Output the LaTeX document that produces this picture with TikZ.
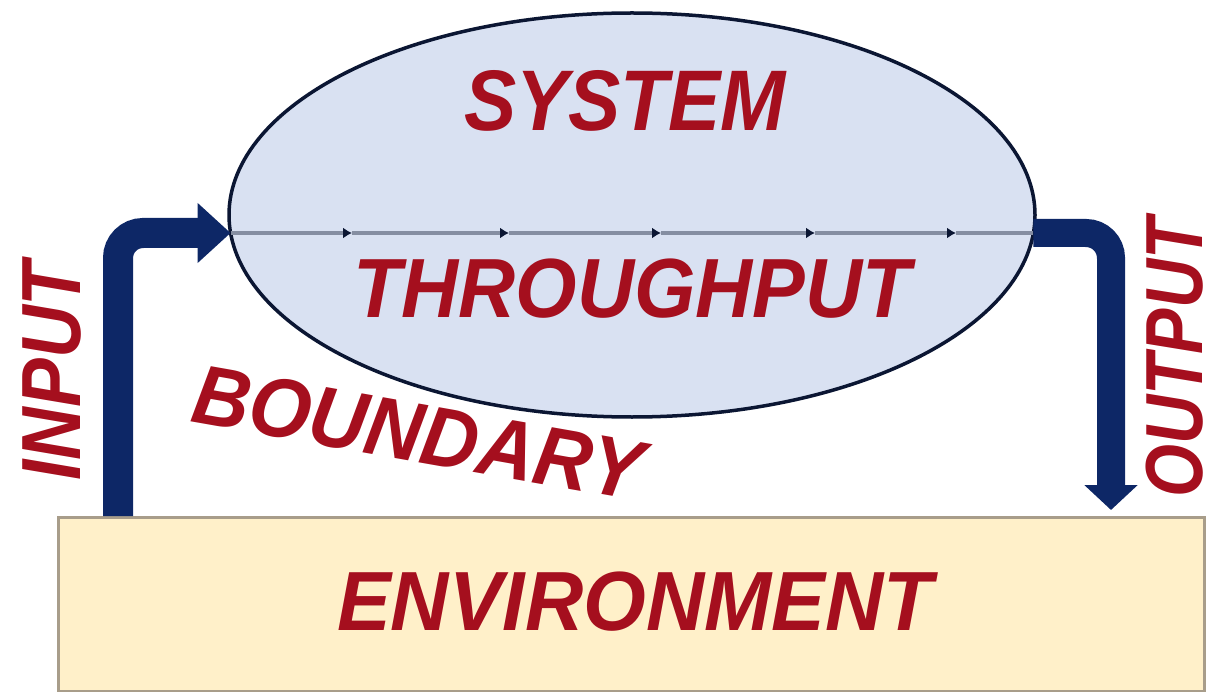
\documentclass[tikz,border=0pt]{standalone}
\usepackage{fontspec}
\setmainfont{Liberation Sans}
\usetikzlibrary{arrows.meta,shapes.geometric}
\definecolor{txtred}{HTML}{A50F1E}
\definecolor{navy}{HTML}{0D2766}
\definecolor{ellfill}{HTML}{D9E1F2}
\definecolor{ellline}{HTML}{0B1633}
\definecolor{envfill}{HTML}{FFF0C9}
\definecolor{envline}{HTML}{A89D8A}
\definecolor{tline}{HTML}{858EA2}
\begin{document}
\begin{tikzpicture}[x=1pt,y=-1pt,
  lbl/.style={text=txtred, inner sep=0pt, font=\fontsize{84}{84}\selectfont\bfseries\itshape},
  flow/.style={draw=navy, line width=30pt, rounded corners=25pt},
  tick/.style={draw=tline, line width=3.5pt, -{Latex[length=9pt,width=11pt,color=ellline]}},
]
\useasboundingbox (0,0) rectangle (1206,692);
% environment
\node[draw=envline, fill=envfill, line width=3pt, minimum width=1146pt, minimum height=174pt,
      inner sep=0pt, anchor=north west] (env) at (57,516) {};
\node[lbl] (envtext) at (635,602) {\scalebox{0.96}[1]{ENVIRONMENT}};
% system
\node[ellipse, draw=ellline, fill=ellfill, line width=3.5pt, minimum width=806pt, minimum height=404pt,
      inner sep=0pt] (sys) at (632,215) {};
\coordinate (inL) at (230.6,233);
\coordinate (outR) at (1033.4,233);
\coordinate (m1) at (352,233);
\coordinate (m2) at (509,233);
\coordinate (m3) at (661,233);
\coordinate (m4) at (815,233);
\coordinate (m5) at (956,233);
\draw[tick] (inL) -- (m1);
\draw[tick] (m1) -- (m2);
\draw[tick] (m2) -- (m3);
\draw[tick] (m3) -- (m4);
\draw[tick] (m4) -- (m5);
\draw[draw=tline, line width=3.5pt] (m5) -- (outR);
\node[lbl, font=\fontsize{86}{86}\selectfont\bfseries\itshape] (systext) at (625,101) {\scalebox{0.91}[1]{SYSTEM}};
\node[lbl] (thrtext) at (632,289) {\scalebox{0.94}[1]{THROUGHPUT}};
% flows
\coordinate (inStart) at (118,516);
\coordinate (outEnd) at (1111,510);
\draw[flow, -{Triangle[length=33pt,width=58pt]}] (inStart) |- (inL);
\draw[flow, line width=28pt, -{Triangle[length=25pt,width=52pt]}] (outR) -| (outEnd);
% labels
\node[lbl, rotate=-10] (bndtext) at (418,433) {\scalebox{0.94}[1]{BOUNDARY}};
\node[lbl, rotate=90] (intext) at (52,371) {\scalebox{0.87}[1]{INPUT}};
\node[lbl, font=\fontsize{81}{81}\selectfont\bfseries\itshape, rotate=90] (outtext) at (1175,358) {\scalebox{0.84}[1]{OUTPUT}};
\end{tikzpicture}
\end{document}
